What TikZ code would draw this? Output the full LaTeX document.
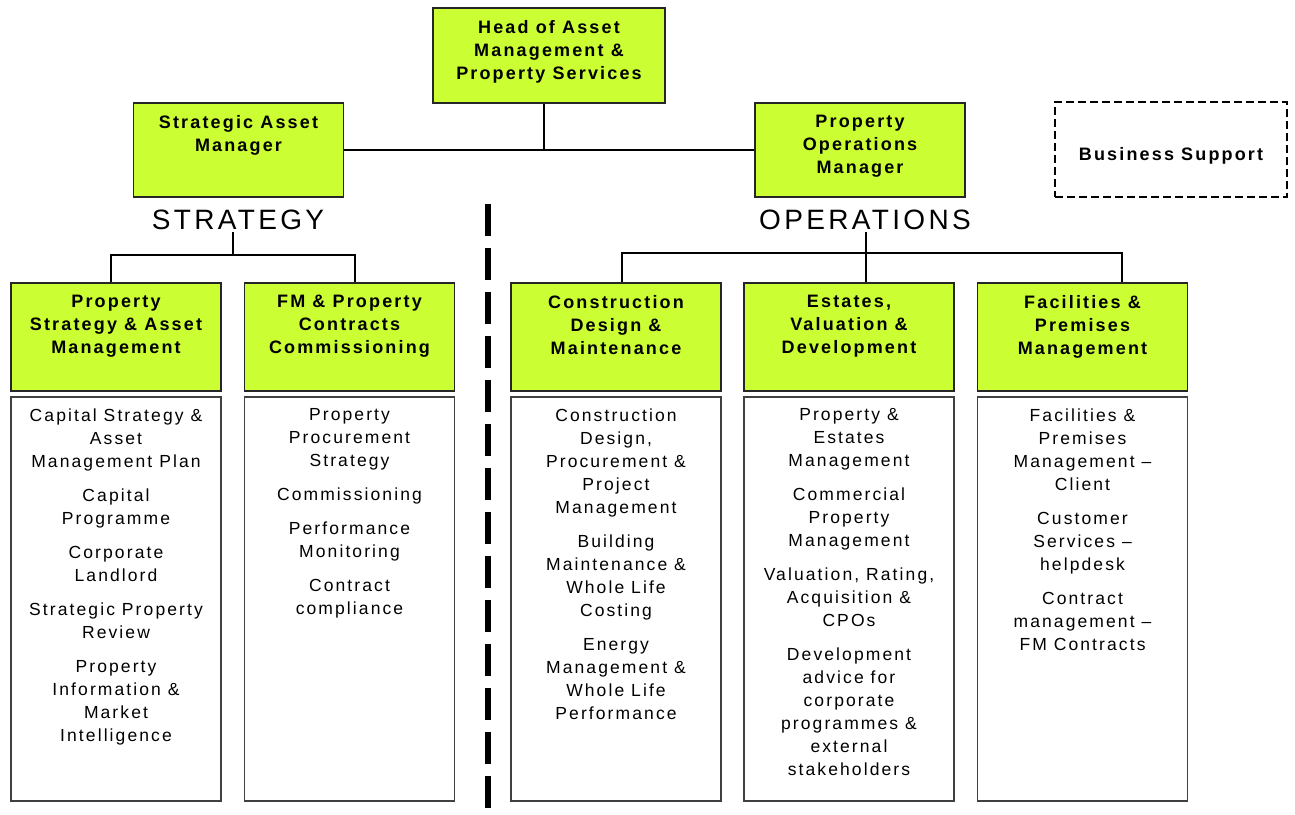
\documentclass[tikz,border=0pt]{standalone}
\usepackage{fontspec}
\setmainfont{Liberation Sans}[LetterSpace=12]
\usepackage{tikz}
\usetikzlibrary{positioning}
\definecolor{boxgreen}{HTML}{CCFF33}

\begin{document}
\begin{tikzpicture}[
    % GLOBAL CFG
    x=1pt, y=-1pt,
    font=\fontsize{17.5}{23}\selectfont,
    % Styles
    post/.style={% For the green job boxes
        rectangle,
        draw=black!85,
        line width=1.3pt,
        fill=boxgreen,
        minimum width=210pt,
        minimum height=108pt,
        inner sep=0pt,
        },
    duties/.style={% For the white lists under the boxes
        rectangle,
        draw=black!75,
        line width=1.3pt,
        minimum width=210pt,
        minimum height=404pt,
        inner sep=0pt,
        },
    support/.style={% For the dashed box
        rectangle,
        draw,
        line width=1.5pt,
        dash pattern=on 8pt off 4pt,
        minimum width=232pt,
        minimum height=95pt,
        inner sep=0pt,
        },
    boldtext/.style={% Titles, top of the box
        anchor=north,
        align=center,
        inner sep=0pt,
        yshift=-12.5pt,
        font=\bfseries\fontsize{18}{23}\selectfont,
        },
    listtext/.style={% Lists, top of the box
        anchor=north,
        align=center,
        inner sep=0pt,
        yshift=-12pt,
        },
    side/.style={% STRATEGY and OPERATIONS
        font=\fontsize{28}{32}\selectfont,
        inner sep=2pt,
        },
    link/.style={% Connectors
        line width=1.2pt,
        },
    divider/.style={% Thick dashed split
        line width=6pt,
        dash pattern=on 32pt off 12pt,
        },
    ]
    \useasboundingbox (0,0) rectangle (1295,814);

    % Top level
    \node [post, minimum width=232pt, minimum height=95pt,
        label={[boldtext]north:{Head of Asset\\Management \&\\Property Services}}] (head) at (549,55.5) {};
    \node [post, minimum height=94pt,
        label={[boldtext]north:{Strategic Asset\\Manager}}] (sam) at (238.5,150) {};
    \node [post, minimum height=94pt,
        label={[boldtext]north:{Property\\Operations\\Manager}}] (pom) at (860,150) {};
    \node [support,
        label={[boldtext, anchor=center, yshift=6pt]center:{Business Support}}] (bs) at (1171,149.5) {};

    \node [side] (strat) at (238,220) {STRATEGY};
    \node [side] (ops) at (865,220) {OPERATIONS};

    % Green boxes named gbox#
    \node [post, label={[boldtext]north:{Property\\Strategy \& Asset\\Management}}] (gbox1) at (116,337) {};
    \node [post, label={[boldtext]north:{FM \& Property\\Contracts\\Commissioning}}] (gbox2) at (349.5,337) {};
    \node [post, label={[boldtext]north:{Construction\\Design \&\\Maintenance}}] (gbox3) at (616,337) {};
    \node [post, label={[boldtext]north:{Estates,\\Valuation \&\\Development}}] (gbox4) at (849,337) {};
    \node [post, label={[boldtext]north:{Facilities \&\\Premises\\Management}}] (gbox5) at (1082.5,337) {};

    % Lists named lbox#
    \node [duties, label={[listtext]north:{Capital Strategy \&\\Asset\\Management Plan\\[11pt]
        Capital\\Programme\\[11pt]Corporate\\Landlord\\[11pt]Strategic Property\\Review\\[11pt]
        Property\\Information \&\\Market\\Intelligence}}] (lbox1) at (116,599) {};
    \node [duties, label={[listtext]north:{Property\\Procurement\\Strategy\\[11pt]
        Commissioning\\[11pt]Performance\\Monitoring\\[11pt]Contract\\compliance}}] (lbox2) at (349.5,599) {};
    \node [duties, label={[listtext]north:{Construction\\Design,\\Procurement \&\\Project\\Management\\[11pt]
        Building\\Maintenance \&\\Whole Life\\Costing\\[11pt]
        Energy\\Management \&\\Whole Life\\Performance}}] (lbox3) at (616,599) {};
    \node [duties, label={[listtext]north:{Property \&\\Estates\\Management\\[11pt]
        Commercial\\Property\\Management\\[11pt]Valuation, Rating,\\Acquisition \&\\CPOs\\[11pt]
        Development\\advice for\\corporate\\programmes \&\\external\\stakeholders}}] (lbox4) at (849,599) {};
    \node [duties, label={[listtext]north:{Facilities \&\\Premises\\Management –\\Client\\[11pt]
        Customer\\Services –\\helpdesk\\[11pt]Contract\\management –\\FM Contracts}}] (lbox5) at (1082.5,599) {};

    % Bus points
    \coordinate (sl) at (111,255);
    \coordinate (sm) at (233,255);
    \coordinate (sr) at (355,255);
    \coordinate (ol) at (622,253);
    \coordinate (om) at (866,253);
    \coordinate (or) at (1122,253);
    \coordinate (divtop) at (488,204);
    \coordinate (divbot) at (488,814);

    % Start connecting all.
    \draw [link] ([xshift=-5pt]head.south) -- ([xshift=-5pt]head.south |- sam.east);
    \draw [link] (sam.east) -- (pom.west);

    \draw [link] (sm |- strat.south) -- (sm);
    \draw [link] (sl |- gbox1.north) -- (sl) -- (sr) -- (sr |- gbox2.north);

    \draw [link] (om |- ops.south) -- (om |- gbox4.north);
    \draw [link] (ol |- gbox3.north) -- (ol) -- (or) -- (or |- gbox5.north);

    % Split
    \draw [divider] (divtop) -- (divbot);

\end{tikzpicture}
\end{document}
